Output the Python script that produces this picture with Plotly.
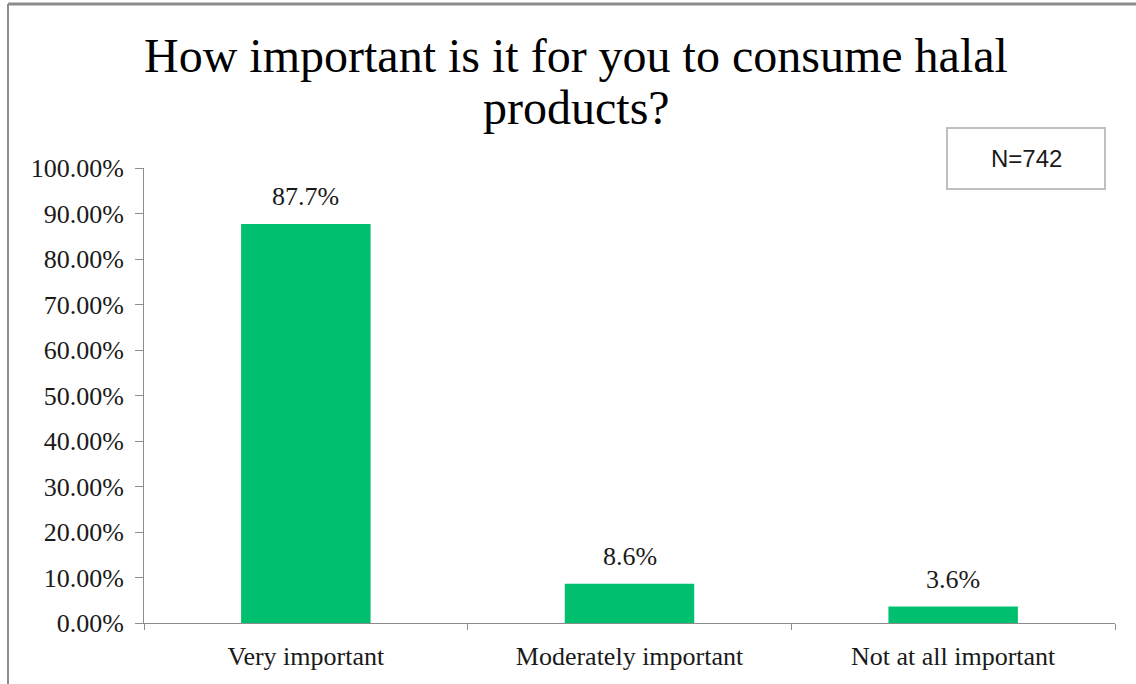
import plotly.graph_objects as go

categories = ["Very important", "Moderately important", "Not at all important"]
values = [0.877, 0.086, 0.036]
labels = ["87.7%", "8.6%", "3.6%"]
title_lines = ["How important is it for you to consume halal", "products?"]
note_text = "N=742"

W, H = 1136, 684
L, R, T, B = 144, 21, 168, 61
PW, PH = W - L - R, H - T - B

def px_x(x):
    return (x - L) / PW

def px_y(y):
    return (H - B - y) / PH

serif = "Liberation Serif, Times New Roman, serif"
bar_color = "#00BF6E"
axis_color = "#8C8C8C"

fig = go.Figure()
fig.add_trace(go.Bar(
    x=categories, y=values, width=0.4,
    marker=dict(color=bar_color, line=dict(width=0)),
    hoverinfo="skip",
))

annotations = []
for c, v, t in zip(categories, values, labels):
    annotations.append(dict(x=c, y=v, xref="x", yref="y", text=t, showarrow=False,
                            yanchor="bottom", yshift=11,
                            font=dict(family=serif, size=26, color="#1a1a1a")))

annotations.append(dict(x=px_x(576), y=px_y(55), xref="paper", yref="paper",
                        text=title_lines[0], showarrow=False, xanchor="center", yanchor="middle",
                        font=dict(family=serif, size=48, color="#000000")))
annotations.append(dict(x=px_x(576), y=px_y(107), xref="paper", yref="paper",
                        text=title_lines[1], showarrow=False, xanchor="center", yanchor="middle",
                        font=dict(family=serif, size=48, color="#000000")))
annotations.append(dict(x=px_x(1026), y=px_y(158), xref="paper", yref="paper",
                        text=note_text, showarrow=False, xanchor="center", yanchor="middle",
                        font=dict(family="Liberation Sans, Arial, sans-serif", size=24, color="#1a1a1a")))

shapes = [
    dict(type="rect", xref="paper", yref="paper", x0=px_x(947), x1=px_x(1105),
         y0=px_y(189), y1=px_y(128), line=dict(color="#BFBFBF", width=2), fillcolor="rgba(0,0,0,0)"),
    dict(type="line", xref="paper", yref="paper", x0=px_x(8), x1=px_x(1136),
         y0=px_y(4), y1=px_y(4), line=dict(color="#8C8C8C", width=3)),
    dict(type="line", xref="paper", yref="paper", x0=px_x(8), x1=px_x(8),
         y0=px_y(4), y1=px_y(684), line=dict(color="#8C8C8C", width=2)),
]

fig.update_layout(
    width=W, height=H, autosize=False,
    margin=dict(l=L, r=R, t=T, b=B, pad=0),
    paper_bgcolor="white", plot_bgcolor="white",
    showlegend=False,
    annotations=annotations,
    shapes=shapes,
    bargap=0.6,
)
fig.update_yaxes(
    range=[0, 1], dtick=0.1, tick0=0, tickformat=".2%",
    ticks="outside", ticklen=8, tickcolor=axis_color, tickwidth=1,
    showline=True, linecolor=axis_color, linewidth=1,
    showgrid=False, zeroline=False,
    tickfont=dict(family=serif, size=26, color="#1a1a1a"),
    ticklabelstandoff=6,
)
fig.update_xaxes(
    type="category", range=[-0.5, 2.5],
    tickson="boundaries", ticks="outside", ticklen=6, tickcolor=axis_color, tickwidth=1,
    showline=True, linecolor=axis_color, linewidth=1,
    showgrid=False, zeroline=False,
    tickfont=dict(family=serif, size=26, color="#1a1a1a"),
    ticklabelstandoff=10,
)

fig.write_html(
    "out.html",
    config={"displayModeBar": False},
    post_script="document.body.style.margin='0';document.body.style.overflow='hidden';",
)
